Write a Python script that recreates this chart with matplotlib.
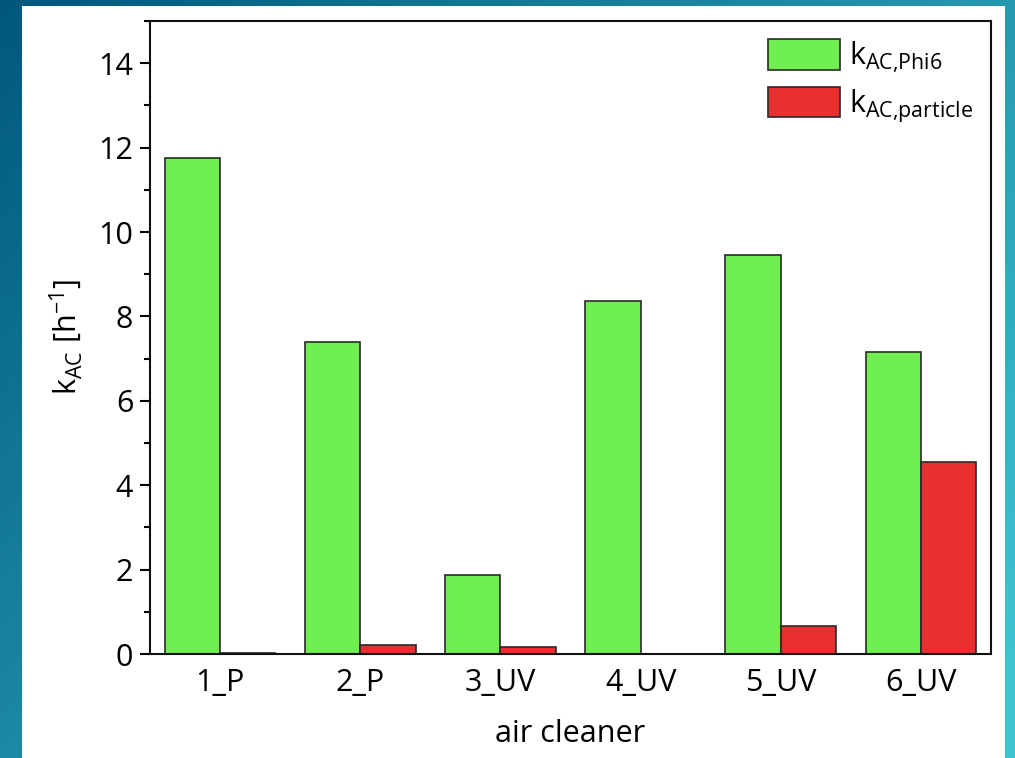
import numpy as np
import matplotlib.pyplot as plt
from matplotlib.patches import Rectangle

plt.rcParams['font.family'] = ['Open Sans', 'DejaVu Sans']
plt.rcParams['mathtext.fontset'] = 'custom'
plt.rcParams['mathtext.rm'] = 'Open Sans'

cleaners = ['1_P', '2_P', '3_UV', '4_UV', '5_UV', '6_UV']
k_phi6 = [11.75, 7.40, 1.87, 8.37, 9.46, 7.16]
k_particle = [0.02, 0.21, 0.17, 0.0, 0.66, 4.56]

green = '#6fee50'
red = '#e83030'
edge = '#2a2a2a'

fig = plt.figure(figsize=(10.15, 7.58), dpi=100)

# teal gradient backdrop with a white panel on top
bg = fig.add_axes([0, 0, 1, 1], zorder=-2)
xx, yy = np.meshgrid(np.linspace(0, 1, 200), np.linspace(0, 1, 200))
t = np.clip(0.6 * xx + 0.45 * yy, 0, 1)[..., None]
dark = np.array([0, 88, 126]) / 255
light = np.array([64, 196, 210]) / 255
bg.imshow(dark * (1 - t) + light * t, extent=[0, 1, 0, 1], aspect='auto', origin='upper')
bg.add_patch(Rectangle((22 / 1015, 0), (1005 - 22) / 1015, 752 / 758,
                       facecolor='white', edgecolor='none', transform=bg.transAxes))
bg.set_xlim(0, 1)
bg.set_ylim(0, 1)
bg.axis('off')

ax = fig.add_axes([150 / 1015, 104 / 758, (991 - 150) / 1015, (654 - 21) / 758])
x = np.arange(1, len(cleaners) + 1)
w = 0.395
ax.bar(x - w / 2, k_phi6, w, color=green, edgecolor=edge, linewidth=1.2,
       label=r'k$_{\mathregular{AC{,}Phi6}}$')
ax.bar(x + w / 2, k_particle, w, color=red, edgecolor=edge, linewidth=1.2,
       label=r'k$_{\mathregular{AC{,}particle}}$')

ax.set_xlim(0.5, 6.5)
ax.set_ylim(0, 15)
ax.set_xticks(x)
ax.set_xticklabels(cleaners)
ax.set_yticks(range(0, 15, 2))
ax.set_yticks(range(1, 16, 2), minor=True)
ax.tick_params(axis='y', which='major', length=7, width=1.5, labelsize=22, direction='out', pad=5)
ax.tick_params(axis='y', which='minor', length=4, width=1.5, direction='out')
ax.tick_params(axis='x', length=0, labelsize=22, pad=10)
for s in ax.spines.values():
    s.set_linewidth(1.5)
    s.set_color('#111111')

ax.set_xlabel('air cleaner', fontsize=22, labelpad=15)
ax.set_ylabel(r'k$_{\mathregular{AC}}$ [h$^{\mathregular{-1}}$]', fontsize=22, labelpad=10)

ax.legend(loc='upper right', frameon=False, fontsize=22, handlelength=2.35, handleheight=1.15,
          labelspacing=0.4, handletextpad=0.3, borderaxespad=0.2)

fig.savefig('out.png', dpi=100)
